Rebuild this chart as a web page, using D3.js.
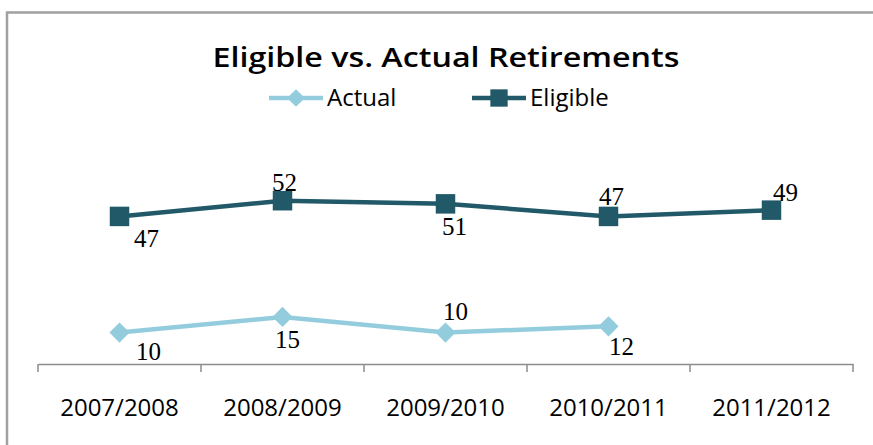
<!DOCTYPE html>
<meta charset="utf-8">
<script src="https://d3js.org/d3.v7.min.js"></script>
<style>
body { margin: 0; background: #fff; overflow: hidden; }
svg { display: block; }
.title { font-family: "Open Sans", sans-serif; fill: #000; }
.legend text, .axis text { font-family: "Open Sans", sans-serif; fill: #000; }
.label { font-family: "Liberation Serif", serif; fill: #000; }
</style>
<body>
<script>

let width = 873,
    height = 445;

let categories = ['2007/2008', '2008/2009', '2009/2010', '2010/2011', '2011/2012'];
let actual = [10, 15, 10, 12];
let eligible = [47, 52, 51, 47, 49];

// label offsets (dx, dy) from each point, as the labels sit in the picture
let actualLabelOffsets = [[29, 19], [5, 22], [10, -21], [13, 20]];
let eligibleLabelOffsets = [[27, 22], [2, -18], [9, 22], [3, -20], [14, -18]];

let actualColor = '#93cddd',
    eligibleColor = '#215968';

let svg = d3.select("body").append("svg")
    .attr("width", width)
    .attr("height", height);

// chart area border: only the top and left edges are in the picture
svg.append("path")
    .attr("d", "M7," + height + "V12.5H" + width)
    .attr("fill", "none")
    .attr("stroke", "#a0a0a0")
    .attr("stroke-width", 2.5);

let x = d3.scaleBand().domain(categories).range([38, 853]);
let y = d3.scaleLinear().domain([0, 60]).range([364, 175.6]);
let cx = function(i) { return x(categories[i]) + x.bandwidth() / 2; };

svg.append("text")
    .attr("class", "title")
    .attr("x", 446).attr("y", 67)
    .attr("text-anchor", "middle")
    .attr("font-size", 27)
    .attr("font-weight", 600)
    .attr("textLength", 467)
    .attr("lengthAdjust", "spacingAndGlyphs")
    .text("Eligible vs. Actual Retirements");

// x axis
let axis = svg.append("g")
    .attr("class", "axis")
    .attr("transform", "translate(0,364)")
    .call(d3.axisBottom(x).tickSize(0).tickFormat(d => d));
axis.select(".domain").attr("stroke", "#8c8c8c").attr("stroke-width", 1.5);
axis.selectAll("text").attr("font-size", 24).attr("dy", "0.35em").attr("y", 44);
axis.selectAll(".bound")
    .data(d3.range(categories.length + 1))
    .enter().append("line")
    .attr("x1", i => x.range()[0] + i * x.step())
    .attr("x2", i => x.range()[0] + i * x.step())
    .attr("y1", 0).attr("y2", 8)
    .attr("stroke", "#8c8c8c").attr("stroke-width", 1.5);

let line = d3.line()
    .x(function(d, i) { return cx(i); })
    .y(function(d) { return y(d); });

function drawSeries(values, color, shape, offsets) {
  let g = svg.append("g");
  g.append("path")
      .datum(values)
      .attr("fill", "none")
      .attr("stroke", color)
      .attr("stroke-width", 4.5)
      .attr("d", line);
  g.selectAll(".pt")
      .data(values)
      .enter().append("path")
      .attr("transform", (d, i) => "translate(" + cx(i) + "," + y(d) + ")")
      .attr("d", d3.symbol().type(shape).size(shape === d3.symbolSquare ? 380 : 260))
      .attr("fill", color);
  g.selectAll(".label")
      .data(values)
      .enter().append("text")
      .attr("class", "label")
      .attr("x", (d, i) => cx(i) + offsets[i][0])
      .attr("y", (d, i) => y(d) + offsets[i][1])
      .attr("dy", "0.35em")
      .attr("text-anchor", "middle")
      .attr("font-size", 25)
      .text(d => d);
}

drawSeries(eligible, eligibleColor, d3.symbolSquare, eligibleLabelOffsets);
drawSeries(actual, actualColor, d3.symbolDiamond2, actualLabelOffsets);

// legend
let legend = svg.append("g").attr("class", "legend");
let items = [
  {name: 'Actual', color: actualColor, shape: d3.symbolDiamond2, x0: 269},
  {name: 'Eligible', color: eligibleColor, shape: d3.symbolSquare, x0: 472}
];
items.forEach(function(it) {
  legend.append("line")
      .attr("x1", it.x0).attr("x2", it.x0 + 54)
      .attr("y1", 98).attr("y2", 98)
      .attr("stroke", it.color).attr("stroke-width", 4.5);
  legend.append("path")
      .attr("transform", "translate(" + (it.x0 + 27) + ",98)")
      .attr("d", d3.symbol().type(it.shape).size(it.shape === d3.symbolSquare ? 300 : 200))
      .attr("fill", it.color);
  legend.append("text")
      .attr("x", it.x0 + 58).attr("y", 98)
      .attr("dy", "0.35em")
      .attr("font-size", 24)
      .text(it.name);
});

</script>
</body>
